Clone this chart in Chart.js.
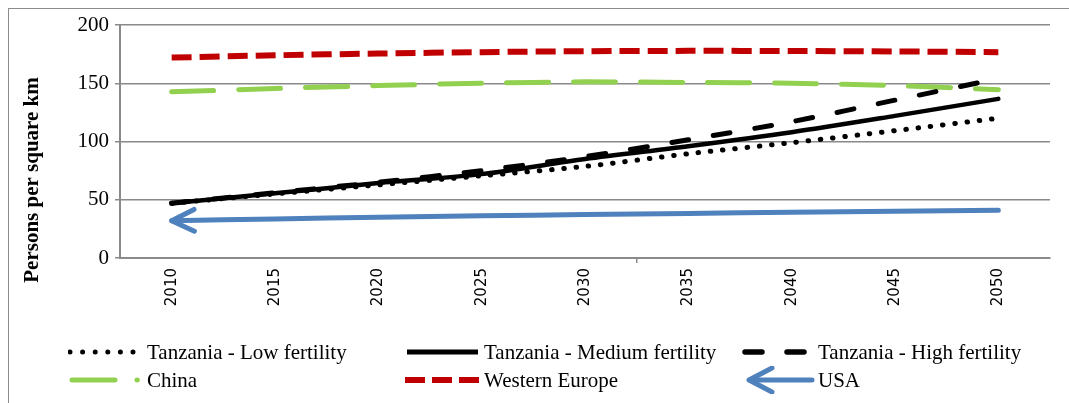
<!DOCTYPE html>
<html>
<head>
<meta charset="utf-8">
<script src="https://cdn.jsdelivr.net/npm/chart.js@4"></script>
<style>
  body { margin: 0; background: #fff; }
  #wrap { position: relative; width: 1069px; height: 403px; overflow: hidden; }
  #frame { position: absolute; left: 8px; top: 8px; width: 1070px; height: 400px;
           border-left: 1.5px solid #8c8c8c; border-top: 1.5px solid #8c8c8c; }
  canvas { position: absolute; left: 0; top: 0; }
  .key { position: absolute; height: 28px; }
  .key svg { position: absolute; left: 0; top: 0; }
  .key span { position: absolute; top: 0; line-height: 28px; white-space: nowrap;
              font-family: "Liberation Serif", serif; font-size: 21px; color: #000; }
</style>
</head>
<body>
<div id="wrap">
  <div id="frame"></div>
  <canvas id="popChart" width="1069" height="403"></canvas>
  <div id="legend"></div>
</div>
<script>
// years on the category axis
var years = ['2010', '2015', '2020', '2025', '2030', '2035', '2040', '2045', '2050'];
var yTicks = [0, 50, 100, 150, 200];

// persons per square km
var tzLow    = [47, 55, 62.8, 70.6, 78.6, 89.5, 99, 109.3, 120];
var tzMedium = [47, 55.5, 64.3, 72, 85, 96, 108, 122, 136.6];
var tzHigh   = [47, 56, 65, 75, 87, 101.5, 117, 135.5, 154];
var china    = [142.6, 145.5, 148, 150, 151.2, 150.7, 150, 148, 144.5];
var westEu   = [172, 174, 175.5, 176.7, 177.5, 177.8, 177.7, 177.3, 176.7];
var usa      = [32, 33.5, 35, 36.2, 37.3, 38.3, 39.2, 40.1, 41];

var seriesNames = ['Tanzania - Low fertility', 'Tanzania - Medium fertility', 'Tanzania - High fertility',
                   'China', 'Western Europe', 'USA'];
var yTitle = 'Persons per square km';

// draws the arrow head at the 2010 end of the USA line
var arrowPlugin = {
    id: 'usaArrow',
    afterDatasetsDraw: function(chart) {
        var meta = chart.getDatasetMeta(5);
        var p0 = meta.data[0], p1 = meta.data[1];
        var ang = Math.atan2(p0.y - p1.y, p0.x - p1.x);
        var len = 25, spread = 0.45;
        var ctx = chart.ctx;
        ctx.save();
        ctx.strokeStyle = '#4F81BD';
        ctx.lineWidth = 5;
        ctx.lineCap = 'round';
        ctx.lineJoin = 'round';
        ctx.beginPath();
        ctx.moveTo(p0.x - len * Math.cos(ang - spread), p0.y - len * Math.sin(ang - spread));
        ctx.lineTo(p0.x, p0.y);
        ctx.lineTo(p0.x - len * Math.cos(ang + spread), p0.y - len * Math.sin(ang + spread));
        ctx.stroke();
        ctx.restore();
    }
};

// y axis title, sits lower than the scale centre like the original
var yTitlePlugin = {
    id: 'yTitle',
    afterDraw: function(chart) {
        var ctx = chart.ctx;
        ctx.save();
        ctx.translate(chart.scales.y.left + 25, 180);
        ctx.rotate(-Math.PI / 2);
        ctx.font = 'bold 21px "Liberation Serif"';
        ctx.fillStyle = '#000';
        ctx.textAlign = 'center';
        ctx.textBaseline = 'middle';
        ctx.fillText(yTitle, 0, 0);
        ctx.restore();
    }
};

var ctx = document.getElementById('popChart').getContext('2d');
var popChart = new Chart(ctx, {
    type: 'line',
    data: {
        labels: years,
        datasets: [{
            label: seriesNames[0], data: tzLow,
            borderColor: '#000', borderWidth: 5, borderDash: [0.5, 11.8], borderCapStyle: 'round'
        }, {
            label: seriesNames[1], data: tzMedium,
            borderColor: '#000', borderWidth: 4.5, borderCapStyle: 'round'
        }, {
            label: seriesNames[2], data: tzHigh,
            borderColor: '#000', borderWidth: 5, borderDash: [17, 25], borderCapStyle: 'round'
        }, {
            label: seriesNames[3], data: china,
            borderColor: '#92D050', borderWidth: 5, borderDash: [42, 25], borderCapStyle: 'round'
        }, {
            label: seriesNames[4], data: westEu,
            borderColor: '#C00000', borderWidth: 6, borderDash: [20, 8], borderCapStyle: 'butt'
        }, {
            label: seriesNames[5], data: usa,
            borderColor: '#4F81BD', borderWidth: 5, borderCapStyle: 'round'
        }]
    },
    options: {
        responsive: false,
        animation: false,
        tension: 0.3,
        elements: { point: { radius: 0 } },
        layout: { padding: { left: 8, top: 25, right: 19, bottom: 95 } },
        scales: {
            x: {
                offset: true,
                grid: {
                    offset: true,
                    drawOnChartArea: false,
                    tickLength: 5,
                    lineWidth: 1.5,
                    color: function(c) { return (c.index === 5) ? '#8a8a8a' : 'rgba(0,0,0,0)'; }
                },
                border: { color: '#8a8a8a', width: 2 },
                ticks: {
                    minRotation: 90, maxRotation: 90,
                    color: '#000', padding: 5,
                    font: { family: 'DejaVu Sans', size: 15 }
                },
                afterFit: function(s) { s.height = 50; }
            },
            y: {
                min: 0, max: 200,
                afterBuildTicks: function(s) { s.ticks = yTicks.map(function(v) { return { value: v }; }); },
                grid: { color: '#8a8a8a', lineWidth: 1.5, tickLength: 5 },
                border: { color: '#8a8a8a', width: 2 },
                ticks: {
                    color: '#000', padding: 6,
                    font: { family: 'Liberation Serif', size: 21 }
                },
                afterFit: function(s) { s.width = 112; }
            }
        },
        plugins: {
            legend: { display: false },
            tooltip: { enabled: false }
        }
    },
    plugins: [arrowPlugin, yTitlePlugin]
});

// legend in three columns, line samples follow the dataset styles
var keySpots = [
    { x: 68,  y: 338 }, { x: 405, y: 338 }, { x: 742, y: 338 },
    { x: 68,  y: 366 }, { x: 405, y: 366 }, { x: 742, y: 366 }
];
var keySamples = [
    '<line x1="2" y1="14" x2="66" y2="14" stroke="#000" stroke-width="5" stroke-linecap="round" stroke-dasharray="0 12.6"/>',
    '<line x1="2" y1="14" x2="73" y2="14" stroke="#000" stroke-width="5"/>',
    '<line x1="3" y1="14" x2="64" y2="14" stroke="#000" stroke-width="5.5" stroke-linecap="round" stroke-dasharray="17 25"/>',
    '<line x1="4" y1="14" x2="69.3" y2="14" stroke="#92D050" stroke-width="5" stroke-linecap="round" stroke-dasharray="43 22"/>',
    '<line x1="0" y1="14" x2="74" y2="14" stroke="#C00000" stroke-width="6" stroke-dasharray="20 7"/>',
    '<g stroke="#4F81BD" stroke-width="5" stroke-linecap="round" stroke-linejoin="round" fill="none">' +
      '<line x1="8" y1="14" x2="70" y2="14"/><polyline points="30,2 7,14 30,26"/></g>'
];
var textLeft = [79, 79, 76, 79, 79, 76];
var legendHtml = '';
for (var i = 0; i < seriesNames.length; i++) {
    var k = keySpots[i];
    legendHtml += '<div class="key" style="left:' + k.x + 'px;top:' + k.y + 'px;width:330px">' +
        '<svg width="80" height="28">' + keySamples[i] + '</svg>' +
        '<span style="left:' + textLeft[i] + 'px">' + seriesNames[i] + '</span></div>';
}
document.getElementById('legend').innerHTML = legendHtml;
</script>
</body>
</html>
